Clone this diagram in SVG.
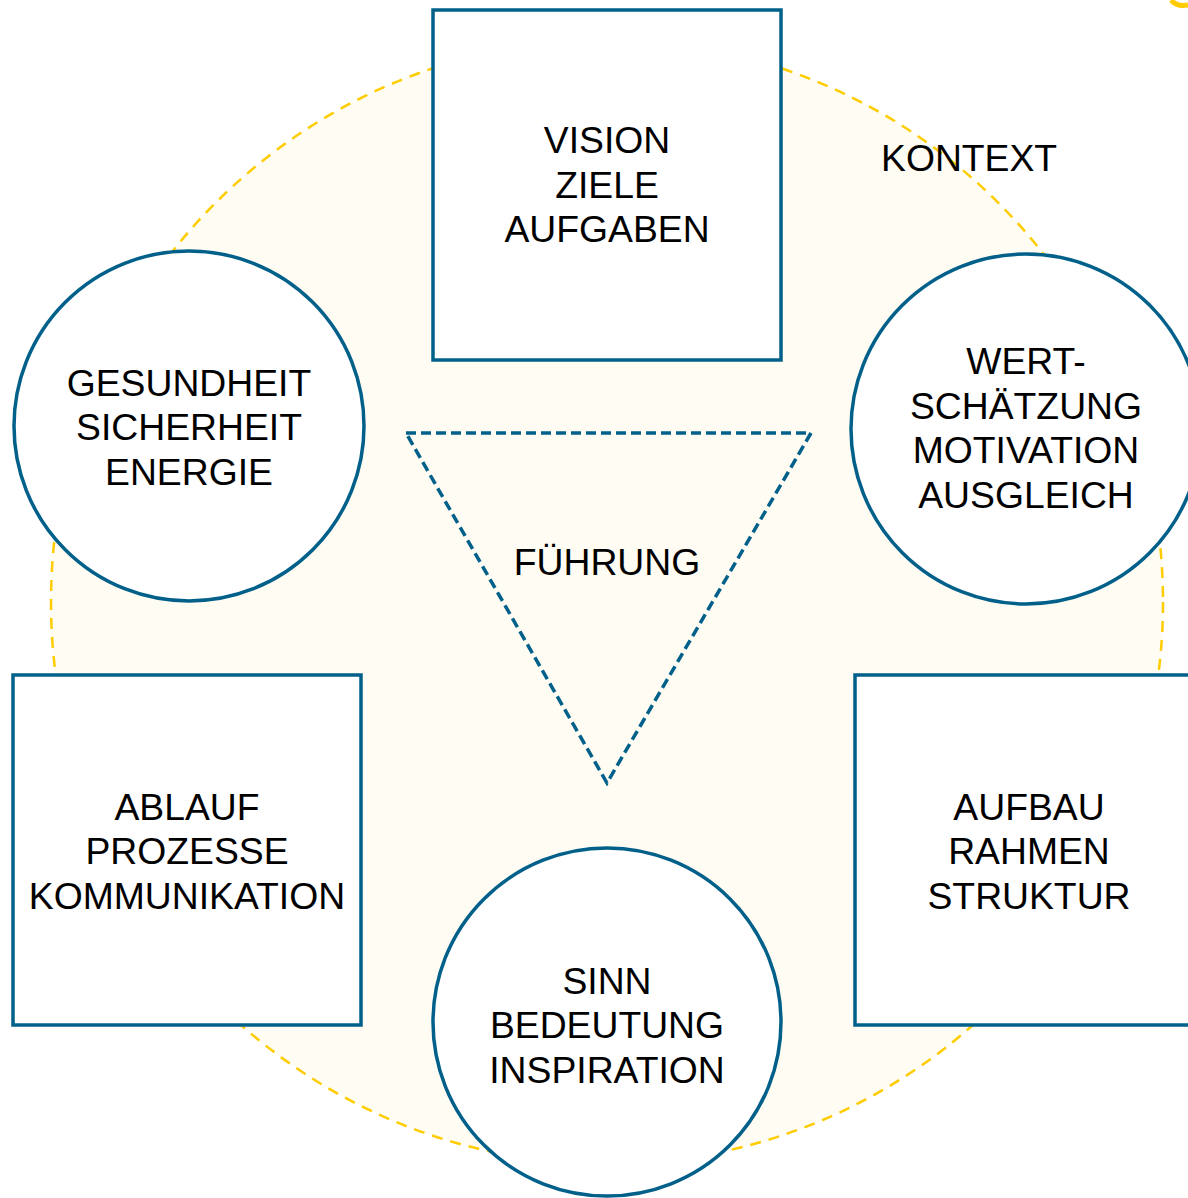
<svg xmlns="http://www.w3.org/2000/svg" width="1188" height="1198" viewBox="0 0 1188 1198">
<style>
.node{fill:#ffffff;stroke:#00608a;stroke-width:3.5}
.t{font-family:"Liberation Sans",Arial,sans-serif;font-size:37.3px;fill:#000000;text-anchor:middle}
</style>
<rect width="1188" height="1198" fill="#ffffff"/>
<g id="kontext">
<ellipse cx="607" cy="602" rx="556" ry="562" fill="#fffcf3" stroke="#ffcc00" stroke-width="2.5" stroke-dasharray="11 8"/>
<text class="t" x="881" y="171" style="text-anchor:start">KONTEXT</text>
</g>
<path d="M1171,0 Q1177,7 1188,5" fill="none" stroke="#ffcc00" stroke-width="5"/>
<g id="connectors"></g>
<g id="fuehrung">
<polygon points="406,433 811,433 607,783" fill="none" stroke="#00608a" stroke-width="3.5" stroke-dasharray="10 5"/>
<text class="t" x="607" y="575">FÜHRUNG</text>
</g>
<g id="vision">
<rect class="node" x="433" y="10" width="348" height="350"/>
<text class="t" x="607" y="153">VISION</text>
<text class="t" x="607" y="198">ZIELE</text>
<text class="t" x="607" y="242">AUFGABEN</text>
</g>
<g id="gesundheit">
<circle class="node" cx="189" cy="426" r="175"/>
<text class="t" x="189" y="396">GESUNDHEIT</text>
<text class="t" x="189" y="440">SICHERHEIT</text>
<text class="t" x="189" y="485">ENERGIE</text>
</g>
<g id="wertschaetzung">
<circle class="node" cx="1026" cy="429" r="175"/>
<text class="t" x="1026" y="374">WERT-</text>
<text class="t" x="1026" y="419">SCHÄTZUNG</text>
<text class="t" x="1026" y="463">MOTIVATION</text>
<text class="t" x="1026" y="508">AUSGLEICH</text>
</g>
<g id="ablauf">
<rect class="node" x="13" y="675" width="348" height="350"/>
<text class="t" x="187" y="820">ABLAUF</text>
<text class="t" x="187" y="864">PROZESSE</text>
<text class="t" x="187" y="909">KOMMUNIKATION</text>
</g>
<g id="aufbau">
<rect class="node" x="855" y="675" width="348" height="350"/>
<text class="t" x="1029" y="820">AUFBAU</text>
<text class="t" x="1029" y="864">RAHMEN</text>
<text class="t" x="1029" y="909">STRUKTUR</text>
</g>
<g id="sinn">
<circle class="node" cx="607" cy="1022" r="174"/>
<text class="t" x="607" y="994">SINN</text>
<text class="t" x="607" y="1038">BEDEUTUNG</text>
<text class="t" x="607" y="1083">INSPIRATION</text>
</g>
</svg>
